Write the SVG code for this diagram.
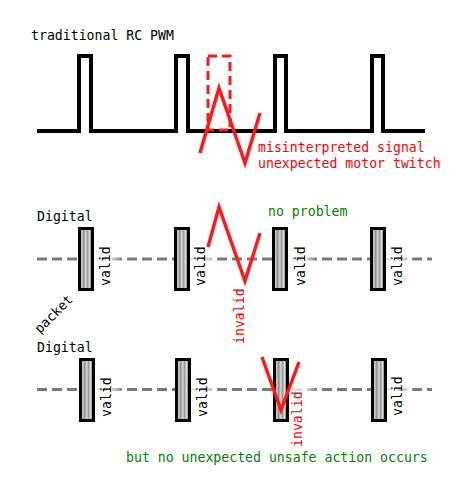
<svg xmlns="http://www.w3.org/2000/svg" width="465" height="492" viewBox="0 0 465 492">
<defs>
<linearGradient id="pk" x1="0" y1="0" x2="1" y2="0">
<stop offset="0" stop-color="#7a7a7a"/>
<stop offset="0.18" stop-color="#d0d0d0"/>
<stop offset="0.32" stop-color="#8c8c8c"/>
<stop offset="0.48" stop-color="#d8d8d8"/>
<stop offset="0.62" stop-color="#9a9a9a"/>
<stop offset="0.78" stop-color="#e0e0e0"/>
<stop offset="1" stop-color="#202020"/>
</linearGradient>
<linearGradient id="fade" x1="0" y1="0" x2="1" y2="0">
<stop offset="0" stop-color="#fff" stop-opacity="0.85"/>
<stop offset="0.7" stop-color="#fff" stop-opacity="0.6"/>
<stop offset="1" stop-color="#fff" stop-opacity="0"/>
</linearGradient>
</defs>
<style>
text{font-family:"DejaVu Sans Mono","Liberation Mono",monospace;font-size:13.2px}
.blk{fill:#000}
.red{fill:#ff0000}
.grn{fill:#008000}
.sig{fill:none;stroke:#000;stroke-width:4}
.zig{fill:none;stroke:#ff1a1a;stroke-width:3.5;stroke-linejoin:miter}
.bus{stroke:#7a7a7a;stroke-width:3;stroke-dasharray:10 5}
.pkt{fill:url(#pk);stroke:#000;stroke-width:3}
</style>
<rect width="465" height="492" fill="#fff"/>

<g id="pwm">
<text class="blk" x="31" y="40">traditional RC PWM</text>
<path class="sig" d="M37,131 H79 V56 H91 V131 H176 V56 H188 V131 H275 V56 H286 V131 H372 V56 H383 V131 H425"/>
<rect x="208" y="56" width="22" height="74" fill="none" stroke="#ff1a1a" stroke-width="3" stroke-dasharray="9 5"/>
<path class="zig" d="M200,153 L219,88 L245,163 L260,113"/>
<text class="red" x="258" y="152">misinterpreted signal</text>
<text class="red" x="258" y="168">unexpected motor twitch</text>
</g>

<g id="connectors">
<line class="bus" x1="37" y1="259" x2="432" y2="259"/>
<line class="bus" x1="37" y1="389.5" x2="432" y2="389.5"/>
<rect x="94" y="257" width="28" height="4" fill="url(#fade)"/>
<rect x="190" y="257" width="28" height="4" fill="url(#fade)"/>
<rect x="288" y="257" width="28" height="4" fill="url(#fade)"/>
<rect x="386" y="257" width="28" height="4" fill="url(#fade)"/>
<rect x="95" y="387.5" width="28" height="4" fill="url(#fade)"/>
<rect x="191" y="387.5" width="28" height="4" fill="url(#fade)"/>
<rect x="289" y="387.5" width="28" height="4" fill="url(#fade)"/>
<rect x="387" y="387.5" width="28" height="4" fill="url(#fade)"/>
</g>

<g id="row1">
<text class="blk" x="37" y="221">Digital</text>
<text class="grn" x="268" y="216">no problem</text>
<text class="blk" transform="translate(40,334) rotate(-45)">packet</text>
</g>
<g id="r1p1"><rect class="pkt" x="79.5" y="228.5" width="13" height="61"/><text class="blk" transform="translate(110,286) rotate(-90)">valid</text></g>
<g id="r1p2"><rect class="pkt" x="175.5" y="228.5" width="13" height="61"/><text class="blk" transform="translate(205,286) rotate(-90)">valid</text></g>
<g id="r1p3"><rect class="pkt" x="273.5" y="228.5" width="13" height="61"/><text class="blk" transform="translate(305,286) rotate(-90)">valid</text></g>
<g id="r1p4"><rect class="pkt" x="371.5" y="228.5" width="13" height="61"/><text class="blk" transform="translate(402,286) rotate(-90)">valid</text></g>
<g id="r1bad">
<path class="zig" d="M208,247 L219,207 L245,281 L260,233"/>
<text class="red" transform="translate(244,344) rotate(-90)">invalid</text>
</g>

<g id="row2">
<text class="blk" x="37" y="352">Digital</text>
<text class="grn" x="126" y="462">but no unexpected unsafe action occurs</text>
</g>
<g id="r2p1"><rect class="pkt" x="80.5" y="359.5" width="13" height="61"/><text class="blk" transform="translate(111,417) rotate(-90)">valid</text></g>
<g id="r2p2"><rect class="pkt" x="176.5" y="359.5" width="13" height="61"/><text class="blk" transform="translate(206.5,417) rotate(-90)">valid</text></g>
<g id="r2p3"><rect class="pkt" x="274.5" y="359.5" width="13" height="61"/></g>
<g id="r2p4"><rect class="pkt" x="372.5" y="359.5" width="13" height="61"/><text class="blk" transform="translate(402,416) rotate(-90)">valid</text></g>
<g id="r2bad">
<path class="zig" d="M262,357 L281,410 L299,362"/>
<text class="red" transform="translate(302,447) rotate(-90)">invalid</text>
</g>
</svg>
